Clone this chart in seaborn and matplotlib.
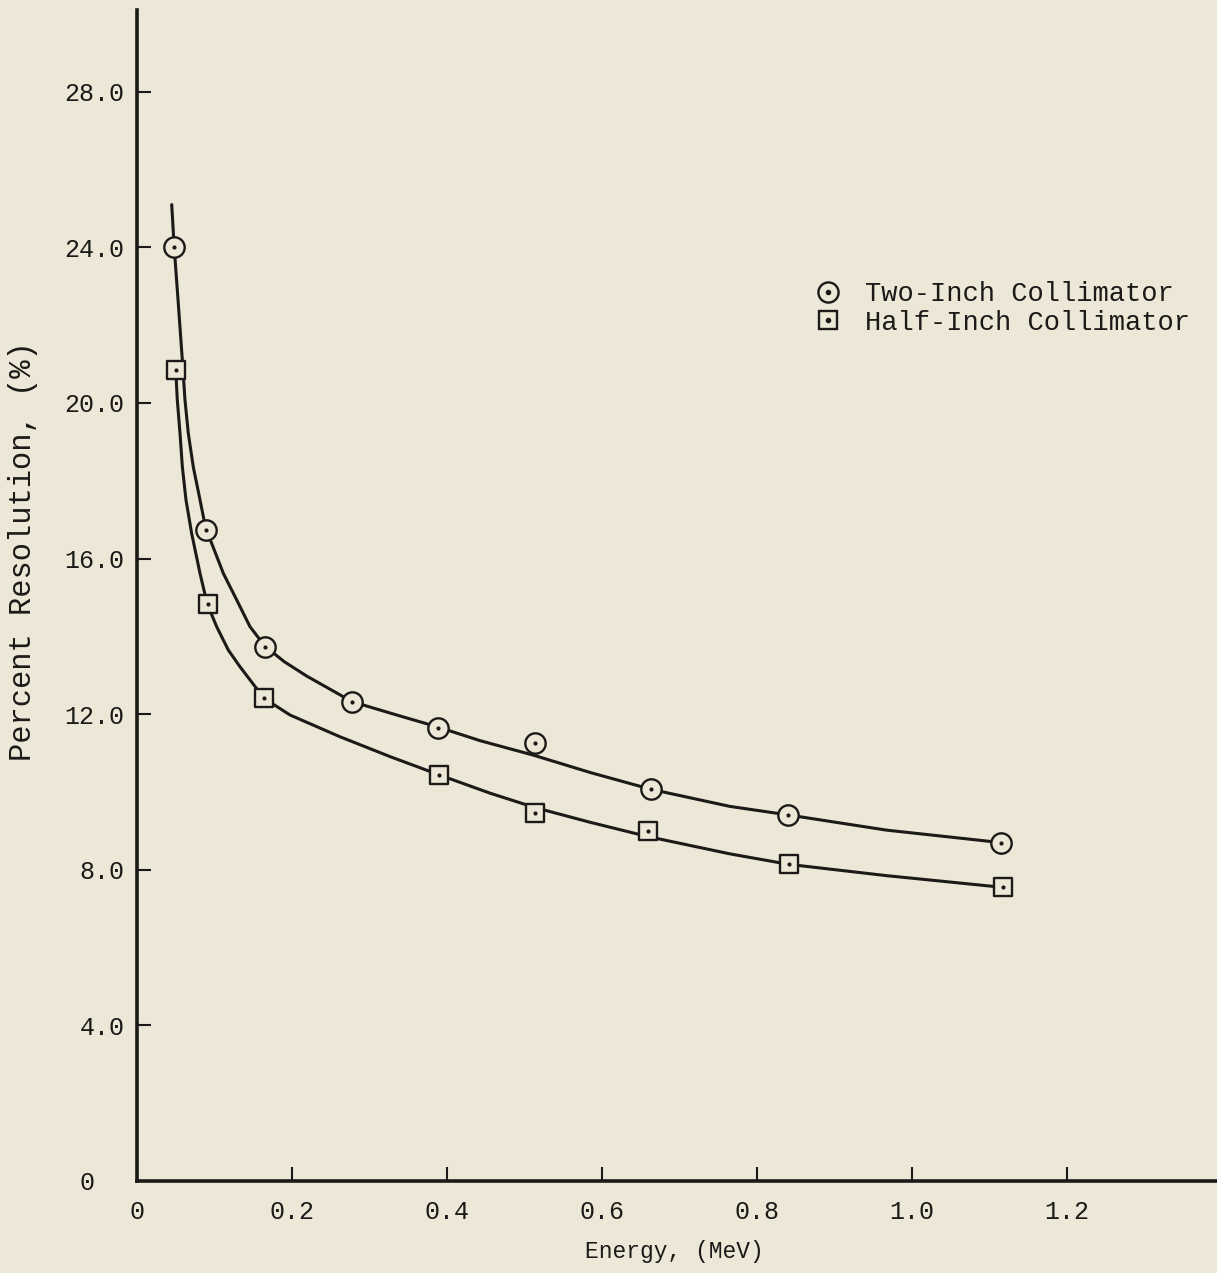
import matplotlib
matplotlib.use("Agg")
import matplotlib.pyplot as plt
import seaborn as sns
from matplotlib.lines import Line2D

two_inch_energy = [0.048, 0.089, 0.165, 0.277, 0.388, 0.514, 0.663, 0.840, 1.115]
two_inch_res = [24.0, 16.73, 13.74, 12.31, 11.65, 11.25, 10.07, 9.41, 8.70]

half_inch_energy = [0.050, 0.092, 0.164, 0.390, 0.514, 0.659, 0.841, 1.117]
half_inch_res = [20.85, 14.83, 12.42, 10.44, 9.45, 9.00, 8.14, 7.55]

# Hand-drawn fitted curves
two_inch_curve_x = [0.0448, 0.048, 0.0535, 0.0585, 0.0619, 0.0662, 0.0726, 0.0813,
                    0.089, 0.0964, 0.1114, 0.1286, 0.1458, 0.165, 0.19, 0.219,
                    0.2778, 0.335, 0.39, 0.4426, 0.511, 0.585, 0.663, 0.765,
                    0.8405, 0.967, 1.1144]
two_inch_curve_y = [25.1, 24.0, 22.5, 21.1, 20.08, 19.22, 18.36, 17.51,
                    16.74, 16.39, 15.62, 14.94, 14.25, 13.75, 13.35, 12.98,
                    12.32, 11.98, 11.66, 11.32, 10.95, 10.5, 10.07, 9.63,
                    9.41, 9.02, 8.70]

half_inch_curve_x = [0.050, 0.052, 0.0555, 0.0585, 0.0632, 0.0705, 0.0813, 0.0907,
                     0.1028, 0.1178, 0.1329, 0.1639, 0.1974, 0.2619, 0.3265, 0.39,
                     0.4555, 0.5135, 0.585, 0.658, 0.765, 0.841, 0.967, 1.1166]
half_inch_curve_y = [20.85, 20.08, 19.22, 18.36, 17.51, 16.65, 15.62, 14.83,
                     14.25, 13.65, 13.22, 12.41, 11.98, 11.42, 10.91, 10.44,
                     9.97, 9.60, 9.22, 8.86, 8.41, 8.14, 7.85, 7.55]

y_ticks = [0, 4, 8, 12, 16, 20, 24, 28]
y_tick_labels = ["0  ", "4.0", "8.0", "12.0", "16.0", "20.0", "24.0", "28.0"]
x_ticks = [0, 0.2, 0.4, 0.6, 0.8, 1.0, 1.2]
x_tick_labels = ["0", "0.2", "0.4", "0.6", "0.8", "1.0", "1.2"]

BG = "#ECE7D6"
INK = "#1b1a18"

sns.set_theme(style="ticks")
plt.rcParams["font.family"] = ["Liberation Mono", "DejaVu Sans Mono"]
plt.rcParams["text.color"] = INK

fig = plt.figure(figsize=(12.17, 12.73), dpi=100)
fig.patch.set_facecolor(BG)
ax = fig.add_axes([137 / 1217, 92 / 1273, 1080 / 1217, 1171 / 1273])
ax.set_facecolor(BG)

# curves
sns.lineplot(x=two_inch_curve_x, y=two_inch_curve_y, estimator=None, sort=False,
             color=INK, lw=2.2, ax=ax, zorder=2)
sns.lineplot(x=half_inch_curve_x, y=half_inch_curve_y, estimator=None, sort=False,
             color=INK, lw=2.2, ax=ax, zorder=2)

# open markers with a centre dot
sns.scatterplot(x=two_inch_energy, y=two_inch_res, marker="o", s=215,
                facecolor=BG, edgecolor=INK, linewidth=1.7, ax=ax, zorder=3)
sns.scatterplot(x=half_inch_energy, y=half_inch_res, marker="s", s=160,
                facecolor=BG, edgecolor=INK, linewidth=1.7, ax=ax, zorder=3)
sns.scatterplot(x=two_inch_energy + half_inch_energy,
                y=two_inch_res + half_inch_res, marker="o", s=9,
                color=INK, linewidth=0, ax=ax, zorder=4)

ax.set_xlim(0, 1080 / 775)
ax.set_ylim(0, 1171 / 38.9)

ax.set_xticks(x_ticks)
ax.set_xticklabels(x_tick_labels)
ax.set_yticks(y_ticks)
ax.set_yticklabels(y_tick_labels)
ax.tick_params(axis="both", direction="in", length=10, width=1.5,
               colors=INK, labelsize=18)
ax.tick_params(axis="x", pad=14)
ax.tick_params(axis="y", pad=9)

for side in ["top", "right"]:
    ax.spines[side].set_visible(False)
for side in ["left", "bottom"]:
    ax.spines[side].set_linewidth(2.6)
    ax.spines[side].set_color(INK)

ax.set_xlabel("Energy, (MeV)", fontsize=16.5, color=INK)
ax.set_ylabel("Percent Resolution, (%)", fontsize=22, color=INK)
ax.xaxis.set_label_coords(0.498, -0.05)
ax.yaxis.set_label_coords(-0.092, 0.538)

circle_h = (Line2D([], [], ls="", marker="o", markersize=14.5, mfc=BG, mec=INK, mew=1.7),
            Line2D([], [], ls="", marker="o", markersize=3, mfc=INK, mec=INK))
square_h = (Line2D([], [], ls="", marker="s", markersize=12.5, mfc=BG, mec=INK, mew=1.7),
            Line2D([], [], ls="", marker="o", markersize=3, mfc=INK, mec=INK))
ax.legend([circle_h, square_h], ["Two-Inch Collimator", "Half-Inch Collimator"],
          loc="upper left", bbox_to_anchor=(0.605, 0.789), frameon=False,
          fontsize=19.5, handlelength=1.0, handletextpad=0.85, labelspacing=0.08)

fig.savefig("out.png", dpi=100, facecolor=BG)
